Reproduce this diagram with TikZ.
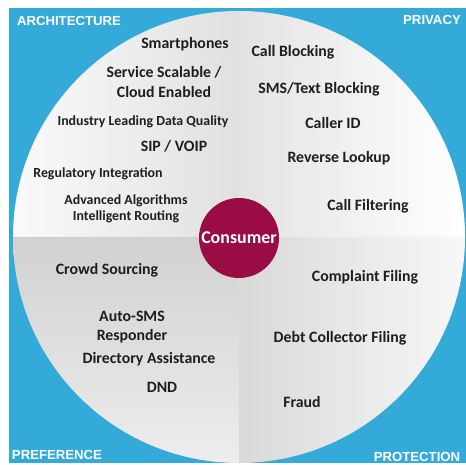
\documentclass[tikz,border=0pt]{standalone}
\usepackage{fontspec}
\setmainfont{Carlito}
\newfontfamily\cornerfont{Liberation Sans}
\definecolor{fondo}{RGB}{52,170,216}
\definecolor{granate}{RGB}{153,12,68}
\definecolor{texto}{RGB}{30,30,30}
\begin{document}
\begin{tikzpicture}[x=0.02cm,y=0.02cm]
\tikzset{
    etiqueta/.style={text centered, align=center, text=texto, font=\fontsize{9}{11}\selectfont\bfseries},
    etiquetamenor/.style={etiqueta, font=\fontsize{7.9}{9.4}\selectfont\bfseries},
    esquina/.style={text=white, font=\cornerfont\fontsize{7.5}{9}\selectfont\bfseries}
}
\useasboundingbox (0,0) rectangle (466,465);
\fill[white] (0,0) rectangle (466,465);
\fill[fondo] (9,2) rectangle (466,457);
% cuadrantes
\shade[left color=white!96!gray, right color=gray!24] (239,228) -- (13,228) arc (180:90:226) -- cycle;
\shade[left color=gray!22, middle color=white!97!gray, right color=white] (239,228) -- (239,454) arc (90:0:226) -- cycle;
\shade[top color=gray!36, bottom color=gray!14] (239,228) -- (239,2) arc (270:180:226) -- cycle;
\shade[left color=gray!30, right color=gray!6] (239,228) -- (465,228) arc (0:-90:226) -- cycle;
\node[circle, fill=granate, minimum size=1.6cm, inner sep=0, text=white, font=\fontsize{10.2}{12}\selectfont\bfseries] (consumer) at (239,227) {Consumer};
% arquitectura
\node[etiqueta] (smart) at (185,421) {Smartphones};
\node[etiqueta] (cloud) at (164,383) {Service Scalable /\\Cloud Enabled};
\node[etiquetamenor] (calidad) at (143,343) {Industry Leading Data Quality};
\node[etiqueta] (sip) at (174,319) {SIP / VOIP};
\node[etiquetamenor] (regul) at (98,291) {Regulatory Integration};
\node[etiquetamenor] (algor) at (126,256) {Advanced Algorithms\\Intelligent Routing};
% privacidad
\node[etiqueta] (bloqueo) at (293,413) {Call Blocking};
\node[etiqueta] (sms) at (319,376) {SMS/Text Blocking};
\node[etiqueta] (callerid) at (333,342) {Caller ID};
\node[etiqueta] (reverse) at (339,307) {Reverse Lookup};
\node[etiqueta] (filtro) at (368,259) {Call Filtering};
% preferencia
\node[etiqueta] (crowd) at (107,195) {Crowd Sourcing};
\node[etiqueta] (autosms) at (132,138) {Auto-SMS\\Responder};
\node[etiqueta] (direct) at (149,106) {Directory Assistance};
\node[etiqueta] (dnd) at (162,78) {DND};
% proteccion
\node[etiqueta] (queja) at (365,188) {Complaint Filing};
\node[etiqueta] (deuda) at (340,127) {Debt Collector Filing};
\node[etiqueta] (fraude) at (302,63) {Fraud};
% esquinas
\node[esquina] (arq) at (69,444) {ARCHITECTURE};
\node[esquina] (priv) at (432,445) {PRIVACY};
\node[esquina] (pref) at (57,10) {PREFERENCE};
\node[esquina] (prot) at (417,8) {PROTECTION};
\end{tikzpicture}
\end{document}
